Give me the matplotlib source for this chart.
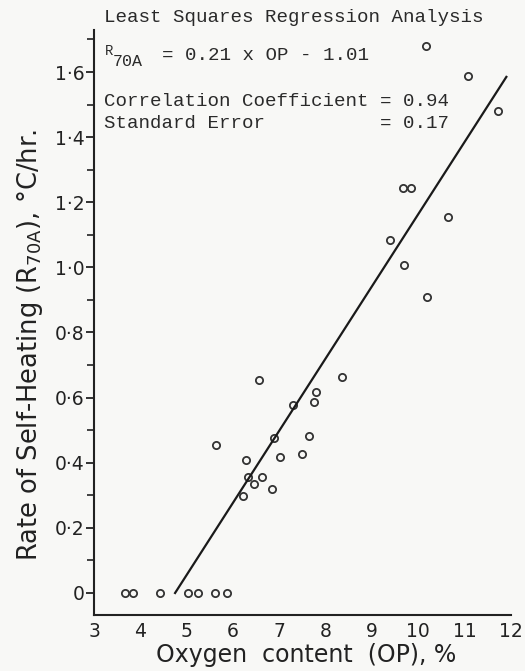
import matplotlib
matplotlib.use("Agg")
import matplotlib.pyplot as plt
from matplotlib.ticker import FixedLocator

# ---- data ----
op_zero = [3.67, 3.84, 4.43, 5.03, 5.25, 5.61, 5.87]
r_zero = [0, 0, 0, 0, 0, 0, 0]

op_mid = [6.57, 8.36, 7.79, 7.74, 7.30, 6.89, 7.64, 5.63, 6.28, 7.02, 7.48,
          6.33, 6.62, 6.45, 6.84, 6.21]
r_mid = [0.654, 0.664, 0.618, 0.586, 0.576, 0.475, 0.482, 0.454, 0.408, 0.417,
         0.427, 0.356, 0.356, 0.336, 0.318, 0.299]

op_high = [10.16, 11.07, 11.71, 9.67, 9.85, 10.63, 9.39, 9.70, 10.19]
r_high = [1.681, 1.588, 1.481, 1.243, 1.243, 1.156, 1.084, 1.007, 0.910]

line_op = [4.75, 11.9]
line_r = [0.0, 1.585]

x_ticks = [3, 4, 5, 6, 7, 8, 9, 10, 11, 12]
y_ticks = [0, 0.2, 0.4, 0.6, 0.8, 1.0, 1.2, 1.4, 1.6]
y_tick_labels = ["0", "0·2", "0·4", "0·6", "0·8", "1·0", "1·2", "1·4", "1·6"]
y_minor = [0.1, 0.3, 0.5, 0.7, 0.9, 1.1, 1.3, 1.5, 1.7]

W, H = 525, 671
fig = plt.figure(figsize=(W / 100, H / 100), dpi=100, facecolor="#f8f8f6")
ax = fig.add_axes([94 / W, 1 - 615 / H, (511 - 94) / W, (615 - 30) / H])
ax.set_facecolor("#f8f8f6")

ops = op_zero + op_mid + op_high
rs = r_zero + r_mid + r_high
ax.plot(ops, rs, linestyle="none", marker="o", markersize=5.2,
        markerfacecolor="none", markeredgecolor="#333333", markeredgewidth=1.3)
ax.plot(line_op, line_r, color="#1a1a1a", linewidth=1.6)

ax.set_xlim(3, 12)
ax.set_ylim(-0.0676, 1.729)
for s in ("top", "right"):
    ax.spines[s].set_visible(False)
for s in ("left", "bottom"):
    ax.spines[s].set_linewidth(1.5)
    ax.spines[s].set_color("#222222")

sans = ["DejaVu Sans"]
ax.set_xticks(x_ticks)
ax.set_xticklabels([str(v) for v in x_ticks], fontsize=13.5, family=sans, color="#222222")
ax.set_yticks(y_ticks)
ax.set_yticklabels(y_tick_labels, fontsize=13.5, family=sans, color="#222222")
ax.yaxis.set_minor_locator(FixedLocator(y_minor))
ax.tick_params(axis="y", which="major", direction="out", length=6, width=1.3,
               color="#222222", pad=1)
ax.tick_params(axis="y", which="minor", direction="out", length=5, width=1.2,
               color="#222222")
ax.tick_params(axis="x", which="major", length=0, pad=5)

ax.set_xlabel("Oxygen  content  (OP), %", fontsize=17, family=sans,
              color="#222222", va="center")
ax.xaxis.set_label_coords((306 - 94) / 417, (615 - 655) / 585)
ax.set_ylabel("Rate of Self-Heating (R$_{\\mathrm{70A}}$), °C/hr.", fontsize=18.5,
              family=sans, color="#222222", va="center")
ax.yaxis.set_label_coords((30 - 94) / 417, (615 - 345) / 585)

mono = ["Liberation Mono", "DejaVu Sans Mono"]
base = dict(family=mono, color="#2a2a2a", fontsize=13.8)


def put(px, py, s, **kw):
    d = dict(base)
    d.update(kw)
    fig.text(px / W, 1 - py / H, s, va="center", ha="left", **d)


put(104, 18, "Least Squares Regression Analysis")
put(105, 51, "R", fontsize=10)
put(113, 61, "70A", fontsize=12)
put(162, 55, "= 0.21 x OP - 1.01")
put(104, 101, "Correlation Coefficient = 0.94")
put(104, 123, "Standard Error          = 0.17")

fig.savefig("out.png", dpi=100, facecolor=fig.get_facecolor())
